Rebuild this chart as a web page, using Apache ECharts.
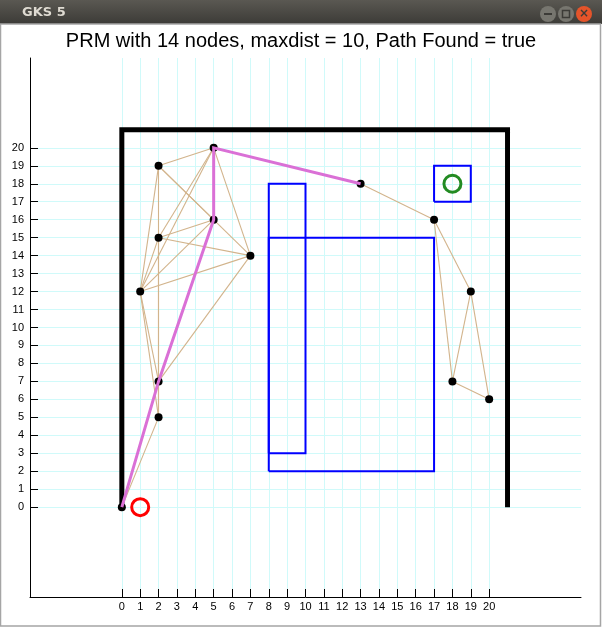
<!DOCTYPE html>
<html>
<head>
<meta charset="utf-8">
<script src="https://cdn.jsdelivr.net/npm/echarts@6/dist/echarts.min.js"></script>
<style>
  html, body { margin: 0; padding: 0; background: #ffffff; }
  #chart { width: 602px; height: 627px; }
</style>
</head>
<body>
<div id="chart"></div>
<script>
// roadmap nodes (x, y)
var nodes = [[0, 0], [2, 5], [2, 7], [1, 12], [2, 15], [2, 19], [5, 20], [5, 16],
             [7, 14], [13, 18], [17, 16], [19, 12], [18, 7], [20, 6]];
// edges as pairs of node indices
var edges = [[0, 1], [0, 2], [1, 2], [1, 3], [1, 4], [2, 3], [2, 4], [2, 7], [2, 8],
             [3, 4], [3, 5], [3, 6], [3, 7], [3, 8], [4, 5], [4, 6], [4, 7], [4, 8],
             [5, 6], [5, 7], [5, 8], [6, 7], [6, 8], [6, 9],
             [9, 10], [10, 11], [10, 12], [11, 12], [11, 13], [12, 13]];
// found path (node indices)
var pathNodes = [0, 2, 7, 6, 9];
// outer walls
var walls = [[0, 0], [0, 21], [21, 21], [21, 0]];
// obstacles [x1, y1, x2, y2]
var obstacles = [[8, 3, 10, 18], [8, 2, 17, 15]];
var goalBox = [17, 17, 19, 19];
var startPoint = [1, 0];
var goalPoint = [18, 18];
var tickValues = [0, 1, 2, 3, 4, 5, 6, 7, 8, 9, 10, 11, 12, 13, 14, 15, 16, 17, 18, 19, 20];

function rectPath(r) {
  return [[r[0], r[1]], [r[2], r[1]], [r[2], r[3]], [r[0], r[3]], [r[0], r[1]]];
}

var chart = echarts.init(document.getElementById('chart'));

var axisCommon = {
  type: 'value',
  min: -5,
  max: 25,
  axisLine: { show: true, onZero: false, lineStyle: { color: '#000', width: 1 } },
  axisTick: { show: true, inside: true, length: 8, customValues: tickValues, lineStyle: { color: '#000' } },
  axisLabel: { customValues: tickValues, color: '#000', fontSize: 11, fontFamily: 'Liberation Sans' },
  splitLine: { show: true, lineStyle: { color: '#d0fafa', width: 1 } }
};

var option = {
  backgroundColor: '#ffffff',
  animation: false,
  title: {
    text: 'PRM with 14 nodes, maxdist = 10, Path Found = true',
    left: 'center',
    top: 26,
    textStyle: { fontSize: 20, fontWeight: 'normal', color: '#000', fontFamily: 'Liberation Sans' }
  },
  grid: { left: 30, right: 21, top: 58, bottom: 30, containLabel: false },
  xAxis: echarts.util.merge({ axisLabel: { margin: 4 } }, axisCommon),
  yAxis: echarts.util.merge({ axisLabel: { margin: 6 } }, axisCommon),
  graphic: [
    { type: 'rect', shape: { x: 0, y: 0, width: 602, height: 24 }, z: 100,
      style: { fill: new echarts.graphic.LinearGradient(0, 0, 0, 1, [
        { offset: 0, color: '#5a5852' }, { offset: 1, color: '#3c3b37' }]) } },
    { type: 'text', x: 22, y: 13, z: 101,
      style: { text: 'GKS 5', fill: '#dfdbd2', font: 'bold 13px "DejaVu Sans"', textVerticalAlign: 'middle' } },
    { type: 'circle', shape: { cx: 548, cy: 14, r: 8 }, z: 101, style: { fill: '#77766f' } },
    { type: 'rect', shape: { x: 544, y: 13, width: 8, height: 2 }, z: 102, style: { fill: '#3c3b37' } },
    { type: 'circle', shape: { cx: 566, cy: 14, r: 8 }, z: 101, style: { fill: '#77766f' } },
    { type: 'rect', shape: { x: 562.5, y: 10.5, width: 7, height: 7 }, z: 102,
      style: { fill: 'none', stroke: '#3c3b37', lineWidth: 1.5 } },
    { type: 'circle', shape: { cx: 584, cy: 14, r: 8 }, z: 101, style: { fill: '#e5542a' } },
    { type: 'text', x: 584, y: 14, z: 102,
      style: { text: '×', fill: '#3c3b37', font: 'bold 12px "DejaVu Sans"', textAlign: 'center', textVerticalAlign: 'middle' } },
    { type: 'rect', shape: { x: 0.5, y: 24, width: 600, height: 602 }, z: 100, silent: true,
      style: { fill: 'none', stroke: '#a5a5a5', lineWidth: 1.5 } }
  ],
  series: [
    {
      type: 'lines', name: 'edges', coordinateSystem: 'cartesian2d', z: 2,
      lineStyle: { color: '#d2b48c', width: 1.1, opacity: 1 },
      data: edges.map(function (e) { return { coords: [nodes[e[0]], nodes[e[1]]] }; })
    },
    {
      type: 'scatter', name: 'nodes', z: 3,
      symbol: 'circle', symbolSize: 8,
      itemStyle: { color: '#000', opacity: 1 },
      data: nodes
    },
    {
      type: 'lines', name: 'walls', coordinateSystem: 'cartesian2d', polyline: true, z: 3,
      lineStyle: { color: '#000', width: 5, opacity: 1 },
      data: [{ coords: walls }]
    },
    {
      type: 'lines', name: 'obstacles', coordinateSystem: 'cartesian2d', polyline: true, z: 3,
      lineStyle: { color: '#0000ff', width: 2, opacity: 1 },
      data: obstacles.concat([goalBox]).map(function (r) { return { coords: rectPath(r) }; })
    },
    {
      type: 'lines', name: 'path', coordinateSystem: 'cartesian2d', polyline: true, z: 4,
      lineStyle: { color: '#da70d6', width: 3, opacity: 1 },
      data: [{ coords: pathNodes.map(function (i) { return nodes[i]; }) }]
    },
    {
      type: 'scatter', name: 'start', z: 5,
      symbol: 'circle', symbolSize: 17,
      itemStyle: { color: 'rgba(0,0,0,0)', borderColor: '#ff0000', borderWidth: 3, opacity: 1 },
      data: [startPoint]
    },
    {
      type: 'scatter', name: 'goal', z: 5,
      symbol: 'circle', symbolSize: 17,
      itemStyle: { color: 'rgba(0,0,0,0)', borderColor: '#228b22', borderWidth: 3, opacity: 1 },
      data: [goalPoint]
    }
  ]
};

chart.setOption(option);
</script>
</body>
</html>
